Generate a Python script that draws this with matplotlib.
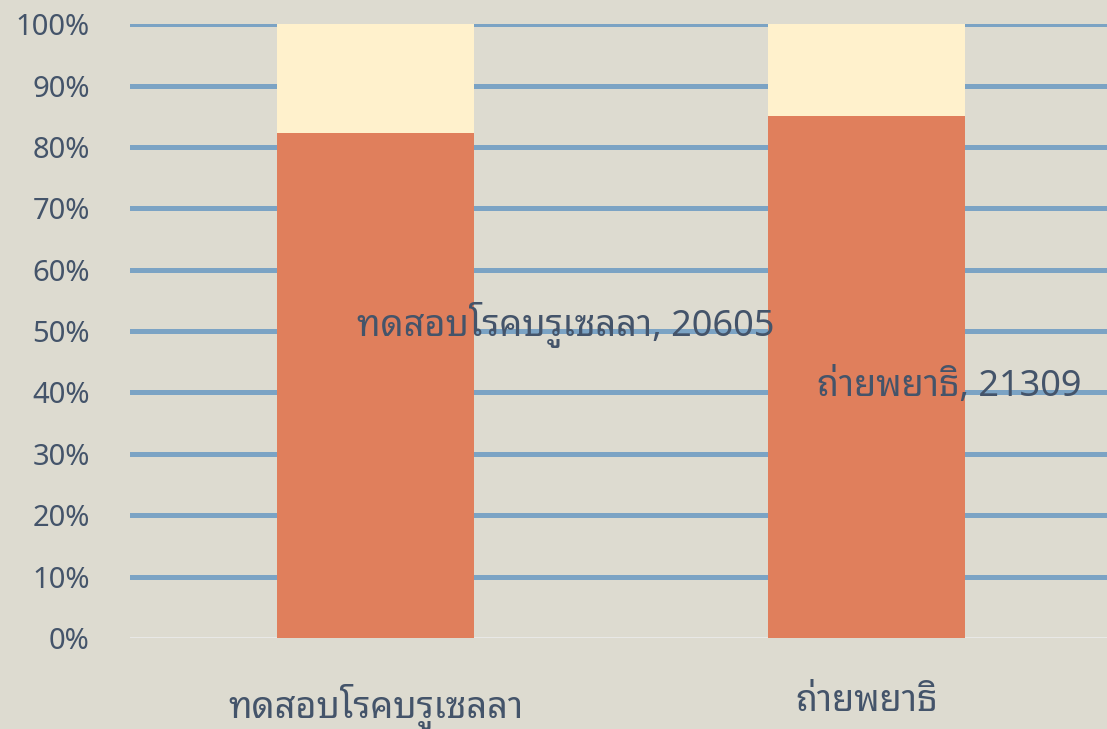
import matplotlib
matplotlib.use("Agg")
import matplotlib.pyplot as plt

# ===== DATA =====
categories = ["ทดสอบโรคบรูเซลลา", "ถ่ายพยาธิ"]
main_values = [20605, 21309]
other_values = [4434, 3724]
y_ticks = [0, 10, 20, 30, 40, 50, 60, 70, 80, 90, 100]

plt.rcParams['font.family'] = ['Noto Sans', 'Noto Sans Thai Looped', 'Loma', 'DejaVu Sans']

bg = "#DDDBD0"
text_col = "#44546A"

totals = [a + b for a, b in zip(main_values, other_values)]
main_pct = [100 * a / t for a, t in zip(main_values, totals)]
other_pct = [100 * b / t for b, t in zip(other_values, totals)]
x = list(range(len(categories)))

fig = plt.figure(figsize=(11.07, 7.29), dpi=100, facecolor=bg)
ax = fig.add_axes([0.1174, 0.1248, 0.887, 0.842])
ax.set_facecolor(bg)

for t in y_ticks[1:]:
    ax.axhline(t, color="#7BA3C4", linewidth=3.6, zorder=1)
ax.axhline(0, color="#E8E8E6", linewidth=1.5, zorder=1)

ax.bar(x, main_pct, width=0.4, color="#E07F5C", zorder=2)
ax.bar(x, other_pct, bottom=main_pct, width=0.4, color="#FFF1CC", zorder=2)

# data labels (placed like the original, off-center)
label_offsets = [(0.387, 51.0), (0.168, 41.0)]
for i, (dx, yy) in enumerate(label_offsets):
    ax.text(x[i] + dx, yy, f"{categories[i]}, {main_values[i]}",
            ha="center", va="center", fontsize=26, color=text_col, zorder=3)

ax.set_xlim(-0.5, 1.5)
ax.set_ylim(0, 100)
ax.set_yticks(y_ticks)
ax.set_yticklabels([f"{t}%" for t in y_ticks])
ax.set_xticks(x)
ax.set_xticklabels(categories)
ax.tick_params(axis="y", length=0, pad=29, labelsize=21, labelcolor=text_col)
ax.tick_params(axis="x", length=0, pad=33, labelsize=26, labelcolor=text_col)
for s in ax.spines.values():
    s.set_visible(False)

plt.savefig("out.png", dpi=100, facecolor=bg)
plt.close()
